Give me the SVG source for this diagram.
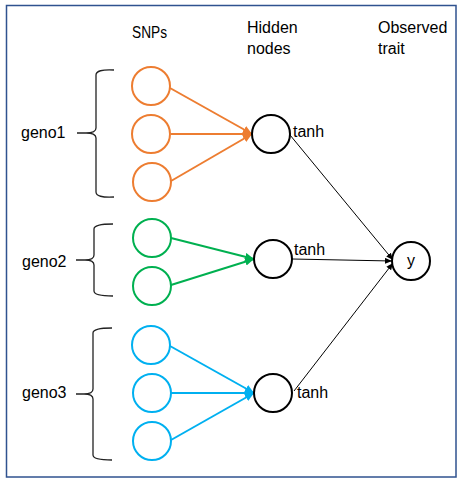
<svg xmlns="http://www.w3.org/2000/svg" width="463" height="483" viewBox="0 0 463 483">
<style>
.lbl{font-family:"Liberation Sans",Arial,sans-serif;font-size:16px;fill:#000}
.big{font-family:"Liberation Sans",Arial,sans-serif;font-size:16px;fill:#000}
.o{fill:#fff;stroke:#ED7D31;stroke-width:2}
.g{fill:#fff;stroke:#00B050;stroke-width:2}
.b{fill:#fff;stroke:#00B0F0;stroke-width:2}
.h{fill:#fff;stroke:#000;stroke-width:2}
.brace{fill:none;stroke:#222;stroke-width:1.3}
.eo{stroke:#ED7D31;stroke-width:2;fill:none}
.eg{stroke:#00B050;stroke-width:2;fill:none}
.eb{stroke:#00B0F0;stroke-width:2;fill:none}
.ek{stroke:#000;stroke-width:1;fill:none}
</style>
<defs>
<marker id="ao" markerUnits="userSpaceOnUse" markerWidth="10" markerHeight="10" refX="9" refY="4" orient="auto"><path d="M0,0 L9,4 L0,8 Z" fill="#ED7D31"/></marker>
<marker id="ag" markerUnits="userSpaceOnUse" markerWidth="10" markerHeight="10" refX="9" refY="4" orient="auto"><path d="M0,0 L9,4 L0,8 Z" fill="#00B050"/></marker>
<marker id="ab" markerUnits="userSpaceOnUse" markerWidth="10" markerHeight="10" refX="9" refY="4" orient="auto"><path d="M0,0 L9,4 L0,8 Z" fill="#00B0F0"/></marker>
<marker id="ak" markerUnits="userSpaceOnUse" markerWidth="8" markerHeight="8" refX="7" refY="3" orient="auto"><path d="M0,0 L7,3 L0,6 Z" fill="#000"/></marker>
</defs>
<rect x="6.5" y="5.5" width="449.5" height="471.5" fill="#fff" stroke="#2F528F" stroke-width="1.5"/>
<g id="headers">
<text class="lbl" x="132" y="38" textLength="35" lengthAdjust="spacingAndGlyphs">SNPs</text>
<text class="lbl" x="247" y="33">Hidden</text>
<text class="lbl" x="247" y="54">nodes</text>
<text class="lbl" x="378" y="33">Observed</text>
<text class="lbl" x="378" y="54">trait</text>
</g>
<g id="connectors">
<line class="eo" x1="170" y1="88" x2="252" y2="134" marker-end="url(#ao)"/>
<line class="eo" x1="171" y1="134" x2="252" y2="134" marker-end="url(#ao)"/>
<line class="eo" x1="171" y1="181" x2="252" y2="134" marker-end="url(#ao)"/>
<line class="eg" x1="171" y1="238" x2="254" y2="259" marker-end="url(#ag)"/>
<line class="eg" x1="171" y1="285" x2="254" y2="259" marker-end="url(#ag)"/>
<line class="eb" x1="170" y1="346" x2="254" y2="393" marker-end="url(#ab)"/>
<line class="eb" x1="171" y1="393" x2="254" y2="393" marker-end="url(#ab)"/>
<line class="eb" x1="171" y1="440" x2="254" y2="393" marker-end="url(#ab)"/>
<line class="ek" x1="290" y1="135" x2="393" y2="260" marker-end="url(#ak)"/>
<line class="ek" x1="292" y1="259" x2="392" y2="261" marker-end="url(#ak)"/>
<line class="ek" x1="294" y1="391" x2="393" y2="263" marker-end="url(#ak)"/>
</g>
<g id="geno1">
<path class="brace" d="M114,70 Q96,69 96,75 L96,128 Q96,133 86,133 L77,133 L86,133 Q96,133 96,138 L96,192 Q96,198 114,197"/>
<text class="big" x="21" y="138">geno1</text>
</g>
<g id="geno2">
<path class="brace" d="M113,224 Q94,224 94,229 L94,255 Q94,260 85,260 L76,260 L85,260 Q94,260 94,265 L94,291 Q94,296 113,296"/>
<text class="big" x="22" y="267">geno2</text>
</g>
<g id="geno3">
<path class="brace" d="M112,328 Q93,328 93,333 L93,389 Q93,394 84,394 L76,394 L84,394 Q93,394 93,399 L93,455 Q93,460 112,460"/>
<text class="big" x="22" y="398">geno3</text>
</g>
<g id="snp1"><circle class="o" cx="151" cy="86" r="19"/></g>
<g id="snp2"><circle class="o" cx="151" cy="134" r="19"/></g>
<g id="snp3"><circle class="o" cx="152" cy="182" r="19"/></g>
<g id="snp4"><circle class="g" cx="152" cy="238" r="19"/></g>
<g id="snp5"><circle class="g" cx="152" cy="286" r="19"/></g>
<g id="snp6"><circle class="b" cx="151" cy="345" r="19"/></g>
<g id="snp7"><circle class="b" cx="152" cy="393" r="19"/></g>
<g id="snp8"><circle class="b" cx="152" cy="441" r="19"/></g>
<g id="hidden1"><circle class="h" cx="271" cy="134" r="19"/><text class="big" x="293" y="137">tanh</text></g>
<g id="hidden2"><circle class="h" cx="273" cy="259" r="19"/><text class="big" x="294" y="255">tanh</text></g>
<g id="hidden3"><circle class="h" cx="273" cy="393" r="19"/><text class="big" x="297" y="398">tanh</text></g>
<g id="output"><circle class="h" cx="411" cy="261" r="19"/><text class="big" x="407" y="266">y</text></g>
</svg>
